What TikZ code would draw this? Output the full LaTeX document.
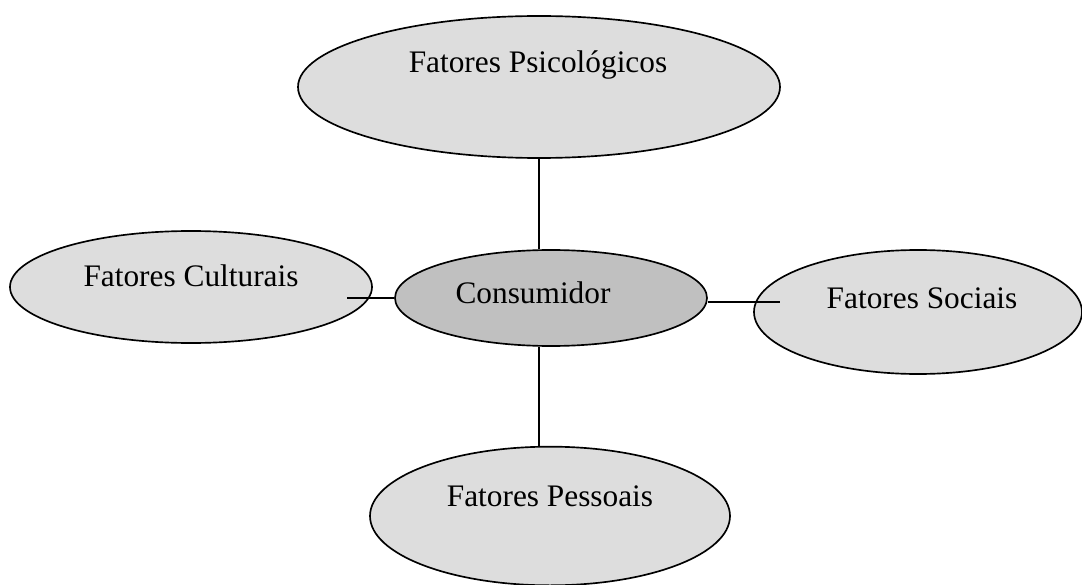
\documentclass[tikz,border=0pt]{standalone}
\usepackage{fontspec}
\setmainfont{Liberation Serif}
\usetikzlibrary{shapes.geometric}
\definecolor{lightfill}{HTML}{DDDDDD}
\definecolor{corefill}{HTML}{C0C0C0}
\tikzset{
  factor/.style={ellipse, draw=black, line width=1.25pt, fill=lightfill, inner sep=0pt},
  core/.style={factor, fill=corefill},
  lbl/.style={font=\fontsize{23.5pt}{28pt}\selectfont, inner sep=0pt, anchor=center},
  link/.style={draw=black, line width=1.2pt}
}
\begin{document}
\begin{tikzpicture}[x=0.75pt,y=-0.75pt]
\useasboundingbox (0,0) rectangle (1082,585);

% ellipses (sizes in pt, one unit = 0.75pt)
\node[factor, minimum width=361.5pt, minimum height=106.5pt] (psi) at (539,87) {};
\node[factor, minimum width=271.5pt, minimum height=84pt]    (cul) at (191,287) {};
\node[factor, minimum width=246pt,   minimum height=93pt]    (soc) at (918,312) {};
\node[factor, minimum width=270pt,   minimum height=104pt]   (pes) at (550,516) {};
\node[core,   minimum width=234pt,   minimum height=72pt]    (con) at (551,298) {};

% labels
\node[lbl] (tpsi) at (538,65)  {Fatores Psicológicos};
\node[lbl] (tcul) at (191,276) {Fatores Culturais};
\node[lbl] (tsoc) at (922,298) {Fatores Sociais};
\node[lbl] (tpes) at (550,496) {Fatores Pessoais};
\node[lbl] (tcon) at (533,293) {Consumidor};

% free ends of the side connectors
\coordinate (culEnd) at (347,298);
\coordinate (socEnd) at (780,302);

% connectors
\draw[link] (psi.south) -- (psi.south |- con.north);
\draw[link] (psi.south |- con.south) -- (psi.south |- pes.north);
\draw[link] (culEnd) -- (con.west);
\draw[link] (con.east |- socEnd) -- (socEnd);
\end{tikzpicture}
\end{document}
